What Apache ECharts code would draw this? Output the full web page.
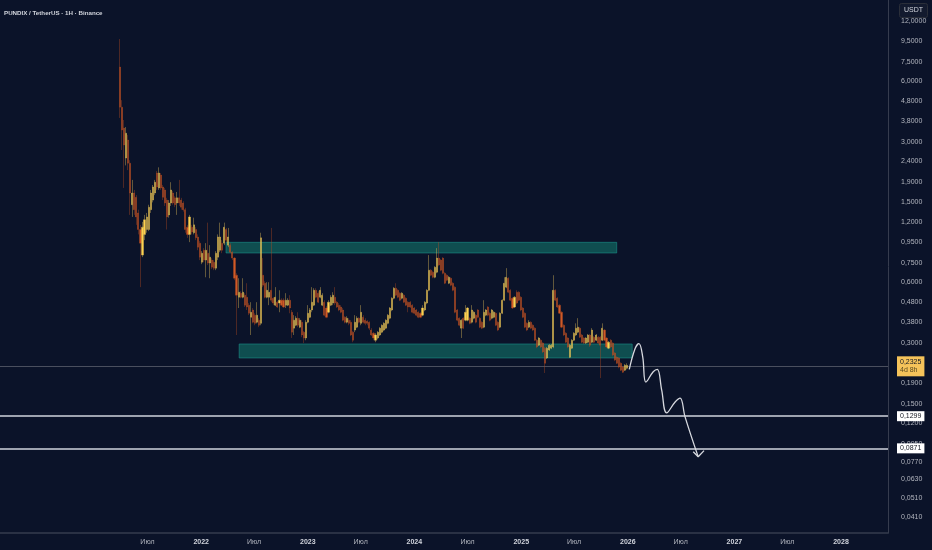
<!DOCTYPE html>
<html><head><meta charset="utf-8">
<script src="https://cdn.jsdelivr.net/npm/echarts@6/dist/echarts.min.js"></script>
<style>html,body{margin:0;padding:0;background:#0b1329}#c{width:932px;height:550px}</style>
</head><body><div id="c"></div><script>
// ---- data ----
const firstCandle = '2021-03-29';   // weekly candles
const ohlc = [ // [open, close, low, high]
[7.06,4.46,3.94,9.72],[4.46,3.43,2.73,4.83],[3.51,2.89,1.77,3.85],[2.49,3.31,2.29,3.55],[3.06,2.35,2.17,3.24],
[2.35,1.67,1.30,2.43],[1.46,1.67,1.27,1.94],[1.67,1.38,1.30,1.73],[1.59,1.27,1.16,1.63],[1.33,1.10,1.04,1.38],
[1.10,0.941,0.569,1.16],[0.821,1.13,0.802,1.20],[1.04,1.23,0.974,1.30],[1.10,1.27,1.06,1.33],[1.10,1.42,1.08,1.46],
[1.38,1.67,1.33,1.73],[1.54,1.79,1.50,1.83],[1.67,1.89,1.63,1.94],[2.10,1.79,1.73,2.15],[1.77,2.10,1.73,2.24],
[2.05,1.77,1.73,2.10],[1.79,1.59,1.54,1.83],[1.73,1.49,1.44,1.77],[1.54,1.27,1.10,1.58],[1.30,1.49,1.26,1.54],
[1.49,1.73,1.44,1.89],[1.67,1.49,1.46,1.71],[1.58,1.46,1.42,1.61],[1.49,1.58,1.30,1.69],[1.58,1.49,1.44,1.94],
[1.54,1.42,1.38,1.58],[1.49,1.38,1.35,1.52],[1.38,1.10,1.06,1.41],[1.13,1.04,1.00,1.16],[1.04,1.27,0.952,1.30],
[1.13,1.07,1.04,1.16],[1.06,1.16,1.04,1.26],[1.10,1.00,0.974,1.13],[1.01,0.899,0.868,1.04],[0.941,0.802,0.775,0.963],
[0.757,0.839,0.740,0.859],[0.868,0.775,0.757,0.889],[0.775,0.868,0.637,0.941],[0.839,0.749,0.732,1.19],[0.749,0.802,0.630,0.920],
[0.775,0.715,0.699,0.793],[0.757,0.707,0.691,0.775],[0.707,0.839,0.691,0.859],[0.802,1.01,0.775,1.04],[0.868,1.01,0.849,1.19],
[0.941,0.868,0.839,0.974],[0.941,1.13,0.920,1.19],[1.10,0.974,0.952,1.12],[0.920,1.01,0.899,1.12],
[0.920,0.849,0.839,0.941],[0.849,0.793,0.775,0.859],[0.793,0.630,0.616,0.802],[0.652,0.519,0.329,0.667],[0.507,0.537,0.448,0.630],
[0.531,0.507,0.501,0.543],[0.507,0.537,0.501,0.630],[0.519,0.463,0.453,0.531],[0.507,0.453,0.438,0.595],[0.463,0.422,0.413,0.474],
[0.403,0.427,0.329,0.479],[0.438,0.381,0.376,0.448],[0.413,0.376,0.368,0.422],[0.381,0.413,0.376,0.479],[0.390,0.368,0.360,0.399],
[0.376,1.00,0.368,1.06],[0.652,0.582,0.569,0.793],[0.595,0.507,0.501,0.609],[0.507,0.549,0.501,0.602],[0.507,0.537,0.463,0.602],
[0.549,0.490,0.479,1.12],[0.501,0.474,0.463,0.507],[0.463,0.507,0.458,0.569],[0.479,0.453,0.448,0.485],[0.474,0.490,0.427,0.549],
[0.490,0.463,0.458,0.501],[0.490,0.453,0.448,0.501],[0.463,0.490,0.448,0.531],[0.463,0.490,0.458,0.501],[0.490,0.448,0.422,0.519],
[0.427,0.340,0.318,0.438],[0.356,0.390,0.329,0.413],[0.368,0.399,0.364,0.408],[0.399,0.368,0.360,0.427],[0.360,0.390,0.356,0.399],
[0.381,0.329,0.321,0.390],[0.340,0.318,0.300,0.344],[0.318,0.381,0.310,0.390],[0.381,0.422,0.376,0.463],[0.403,0.438,0.399,0.448],
[0.438,0.479,0.427,0.569],[0.463,0.549,0.458,0.562],[0.549,0.507,0.501,0.562],[0.531,0.479,0.474,0.543],[0.507,0.549,0.501,0.569],
[0.463,0.519,0.458,0.531],[0.479,0.413,0.408,0.490],[0.448,0.403,0.399,0.458],[0.427,0.479,0.422,0.490],[0.463,0.507,0.458,0.519],
[0.474,0.519,0.463,0.537],[0.507,0.474,0.463,0.569],[0.479,0.453,0.448,0.485],[0.463,0.438,0.432,0.474],[0.453,0.427,0.422,0.463],
[0.438,0.390,0.385,0.448],[0.403,0.381,0.376,0.408],[0.381,0.399,0.376,0.408],[0.390,0.376,0.368,0.399],[0.381,0.329,0.325,0.390],
[0.340,0.310,0.303,0.344],
[0.348,0.381,0.340,0.413],[0.360,0.399,0.356,0.408],[0.399,0.381,0.376,0.403],[0.376,0.427,0.368,0.463],[0.403,0.381,0.376,0.413],
[0.390,0.376,0.368,0.399],[0.385,0.376,0.368,0.390],[0.381,0.356,0.348,0.385],[0.348,0.329,0.325,0.356],[0.336,0.318,0.310,0.340],
[0.310,0.329,0.303,0.336],[0.318,0.340,0.313,0.344],[0.329,0.356,0.325,0.360],[0.340,0.368,0.336,0.372],[0.348,0.376,0.344,0.381],
[0.356,0.390,0.352,0.394],[0.376,0.413,0.372,0.418],[0.399,0.448,0.394,0.453],[0.438,0.501,0.432,0.507],[0.501,0.562,0.495,0.569],
[0.562,0.519,0.513,0.595],[0.549,0.507,0.501,0.556],[0.531,0.490,0.485,0.537],[0.501,0.531,0.495,0.537],[0.519,0.479,0.474,0.525],
[0.501,0.463,0.458,0.507],[0.479,0.453,0.427,0.485],[0.479,0.453,0.448,0.485],[0.463,0.427,0.422,0.468],[0.448,0.422,0.418,0.453],
[0.438,0.413,0.408,0.443],[0.427,0.403,0.399,0.432],[0.422,0.403,0.399,0.427],[0.413,0.448,0.408,0.463],[0.438,0.479,0.432,0.485],
[0.474,0.549,0.468,0.556],[0.549,0.691,0.543,0.821],[0.691,0.652,0.645,0.699],[0.675,0.637,0.630,0.683],[0.637,0.715,0.630,0.723],
[0.675,0.793,0.667,0.889],[0.793,0.732,0.723,0.952],[0.775,0.691,0.683,0.784],[0.793,0.667,0.659,0.802],[0.667,0.595,0.589,0.675],
[0.652,0.616,0.609,0.659],[0.595,0.637,0.589,0.645],[0.630,0.582,0.575,0.637],[0.595,0.549,0.543,0.602],[0.569,0.427,0.422,0.575],
[0.438,0.390,0.385,0.443],[0.399,0.368,0.364,0.403],[0.356,0.390,0.318,0.394],[0.399,0.356,0.352,0.403],[0.390,0.427,0.385,0.463],
[0.390,0.448,0.385,0.453],[0.399,0.376,0.372,0.403],[0.381,0.438,0.376,0.463],[0.399,0.427,0.394,0.432],[0.413,0.381,0.376,0.418],
[0.438,0.403,0.399,0.443],[0.399,0.360,0.356,0.403],[0.381,0.356,0.352,0.385],[0.360,0.427,0.356,0.490],[0.413,0.438,0.408,0.443],
[0.453,0.413,0.408,0.458],[0.422,0.390,0.385,0.427],[0.399,0.438,0.394,0.443],[0.403,0.427,0.399,0.432],[0.422,0.368,0.364,0.427],
[0.381,0.348,0.344,0.385],[0.360,0.422,0.356,0.427],[0.422,0.490,0.418,0.495],[0.490,0.595,0.485,0.637],[0.569,0.637,0.562,0.707],
[0.630,0.537,0.531,0.637],[0.549,0.490,0.485,0.556],[0.501,0.448,0.443,0.507],[0.453,0.507,0.448,0.513],[0.537,0.474,0.468,0.549],
[0.537,0.490,0.485,0.543],[0.507,0.438,0.432,0.513],[0.448,0.403,0.399,0.453],[0.422,0.360,0.356,0.427],[0.376,0.348,0.344,0.381],
[0.360,0.381,0.356,0.390],[0.381,0.356,0.352,0.385],[0.368,0.348,0.344,0.372],[0.356,0.310,0.307,0.360],[0.310,0.287,0.283,0.314],
[0.293,0.318,0.290,0.321],[0.310,0.287,0.283,0.314],[0.300,0.271,0.268,0.303],[0.283,0.238,0.213,0.287],[0.253,0.283,0.250,0.287],
[0.277,0.293,0.274,0.297],[0.283,0.293,0.280,0.297],[0.287,0.549,0.283,0.652],[0.549,0.490,0.485,0.556],[0.501,0.453,0.448,0.507],
[0.463,0.422,0.418,0.468],[0.427,0.360,0.356,0.432],[0.368,0.329,0.325,0.372],[0.336,0.303,0.300,0.340],[0.318,0.287,0.283,0.321],
[0.255,0.293,0.253,0.297],[0.283,0.310,0.280,0.314],[0.310,0.336,0.307,0.340],[0.329,0.356,0.325,0.376],[0.340,0.360,0.336,0.399],
[0.356,0.321,0.318,0.360],[0.329,0.303,0.300,0.333],[0.318,0.300,0.297,0.321],[0.300,0.318,0.297,0.321],[0.303,0.329,0.300,0.333],
[0.329,0.293,0.287,0.333],[0.303,0.348,0.300,0.356],[0.321,0.303,0.300,0.325],[0.310,0.329,0.307,0.333],[0.321,0.300,0.297,0.325],
[0.321,0.293,0.201,0.325],[0.310,0.356,0.307,0.376],[0.348,0.310,0.307,0.352],[0.318,0.287,0.283,0.321],[0.283,0.303,0.280,0.307],
[0.310,0.287,0.283,0.314],[0.300,0.262,0.258,0.303],[0.268,0.247,0.244,0.271],[0.255,0.238,0.236,0.258],[0.253,0.228,0.225,0.255],
[0.238,0.220,0.218,0.241],[0.228,0.215,0.213,0.230],[0.220,0.233,0.218,0.236],[0.225,0.2325,0.222,0.238]
];
const priceTicks = [12,9.5,7.5,6,4.8,3.8,3,2.4,1.9,1.5,1.2,0.95,0.75,0.6,0.48,0.38,0.3,0.24,0.19,0.15,0.12,0.095,0.077,0.063,0.051,0.041];
const timeTicks = ['2021-07-01','2022-01-01','2022-07-01','2023-01-01','2023-07-01','2024-01-01','2024-07-01','2025-01-01','2025-07-01','2026-01-01','2026-07-01','2027-01-01','2027-07-01','2028-01-01'];
const xRange = ['2020-02-12','2028-06-10'];
const yRange = [0.03417, 15.19];
const zoneNames = ['upper','lower'];
const zoneStart = ['2022-03-27','2022-05-11'];
const zoneEnd = ['2025-11-24','2026-01-16'];
const zoneHigh = [0.95, 0.297];
const zoneLow = [0.841, 0.253];
const levels = [0.1299, 0.0871];
const lastPrice = 0.2325;
const countdown = '4d 8h';
const forecastDates = ['2026-01-06','2026-01-26','2026-02-08','2026-02-21','2026-03-04','2026-03-29','2026-04-12','2026-04-27','2026-05-14','2026-06-12','2026-06-29','2026-07-16','2026-08-30'];
const forecastValues = [0.222,0.282,0.298,0.256,0.192,0.216,0.222,0.175,0.135,0.153,0.160,0.129,0.0817];
const arrowDates = ['2026-08-13','2026-08-30','2026-09-19'];
const arrowValues = [0.0866,0.0817,0.0877];
const monthLabel = 'Июл';
const titleText = 'PUNDIX / TetherUS · 1H · Binance';
const currency = 'USDT';

// ---- build ----
const utc = s => { const [y,m,d] = s.split('-').map(Number); return Date.UTC(y, m-1, d); };
const WEEK = 7*86400000;
const t0 = utc(firstCandle);
const candles = ohlc.map((r,i) => [t0 + i*WEEK, r[0], r[1], r[2], r[3]]);
const fmtPrice = v => v.toFixed(4).replace('.', ',');
const FONT = "'Liberation Sans', Arial, sans-serif";

const chart = echarts.init(document.getElementById('c'), null, {renderer:'canvas'});
chart.setOption({
  backgroundColor: '#0b1329',
  animation: false,
  textStyle: {fontFamily: FONT},
  title: {text: titleText, left: -1, top: 5, textStyle: {fontSize: 6.2, fontWeight: 'bold', color: '#d1d4dc', fontFamily: FONT}},
  grid: {left: 0, right: 44, top: 0, bottom: 17},
  xAxis: {
    type: 'value', min: utc(xRange[0]), max: utc(xRange[1]),
    axisLine: {show: true, lineStyle: {color: '#363c4e', width: 1.5}},
    axisTick: {show: false}, splitLine: {show: false},
    axisLabel: {
      customValues: timeTicks.map(utc), color: '#b2b5be', fontSize: 7, margin: 6, hideOverlap: false,
      formatter: v => { const d = new Date(v); return d.getUTCMonth() === 0 ? '{y|' + d.getUTCFullYear() + '}' : monthLabel; },
      rich: {y: {fontWeight: 'bold', color: '#d1d4dc', fontSize: 7}}
    }
  },
  yAxis: {
    type: 'log', position: 'right', min: yRange[0], max: yRange[1],
    axisLine: {show: true, lineStyle: {color: '#363c4e'}},
    axisTick: {show: false}, splitLine: {show: false}, minorSplitLine: {show: false},
    axisLabel: {customValues: priceTicks, formatter: fmtPrice, color: '#b2b5be', fontSize: 7, margin: 13, hideOverlap: false}
  },
  graphic: [{
    type: 'group', right: 4, top: 3, z: 100,
    children: [
      {type: 'rect', shape: {x: 0, y: 0, width: 28, height: 14, r: 2}, style: {fill: '#131a2e', stroke: '#2a2e39'}},
      {type: 'text', x: 14, y: 7, style: {text: currency, fill: '#d1d4dc', fontSize: 7, fontFamily: FONT, align: 'center', verticalAlign: 'middle'}}
    ]
  }],
  series: [
    {
      name: 'zones', type: 'line', data: [], z: 1, silent: true,
      markArea: {
        silent: true,
        itemStyle: {color: 'rgba(22,160,135,0.42)', borderColor: 'rgba(30,160,150,0.5)', borderWidth: 1},
        data: zoneNames.map((n,i) => [{xAxis: utc(zoneStart[i]), yAxis: zoneHigh[i]}, {xAxis: utc(zoneEnd[i]), yAxis: zoneLow[i]}])
      }
    },
    {
      name: 'levels', type: 'line', data: [], z: 2, silent: true,
      markLine: {
        silent: true, symbol: 'none', animation: false,
        data: [
          {yAxis: lastPrice, lineStyle: {color: '#4a4f5e', width: 1, type: 'solid'},
           label: {show: true, position: 'end', distance: 9, formatter: () => '{a|' + fmtPrice(lastPrice) + '}\n{b|' + countdown + '}',
                   backgroundColor: '#f5c35a', padding: [2, 3, 2, 3],
                   rich: {a: {color: '#131722', fontSize: 7, lineHeight: 8, fontFamily: FONT}, b: {color: '#5a4a20', fontSize: 7, lineHeight: 8, fontFamily: FONT}}}},
          ...levels.map(v => ({yAxis: v, lineStyle: {color: '#d1d4dc', width: 1.5, type: 'solid'},
           label: {show: true, position: 'end', distance: 9, formatter: () => fmtPrice(v), color: '#131722', fontSize: 7, fontFamily: FONT,
                   backgroundColor: '#ffffff', padding: [2, 3, 1, 3]}}))
        ]
      }
    },
    {
      name: 'PUNDIX', type: 'candlestick', z: 5, data: candles, barWidth: 1.6,
      itemStyle: {color: '#ffd24d', color0: '#d05a26', borderColor: '#e8c25a', borderColor0: '#b34a22', borderWidth: 0.4}
    },
    {
      name: 'forecast', type: 'line', z: 6, smooth: 0.4, symbol: 'none', silent: true,
      lineStyle: {color: '#d6d8de', width: 1.3},
      data: forecastDates.map((d,i) => [utc(d), forecastValues[i]])
    },
    {
      name: 'arrowhead', type: 'line', z: 6, symbol: 'none', silent: true,
      lineStyle: {color: '#d6d8de', width: 1.3},
      data: arrowDates.map((d,i) => [utc(d), arrowValues[i]])
    }
  ]
});
</script></body></html>
